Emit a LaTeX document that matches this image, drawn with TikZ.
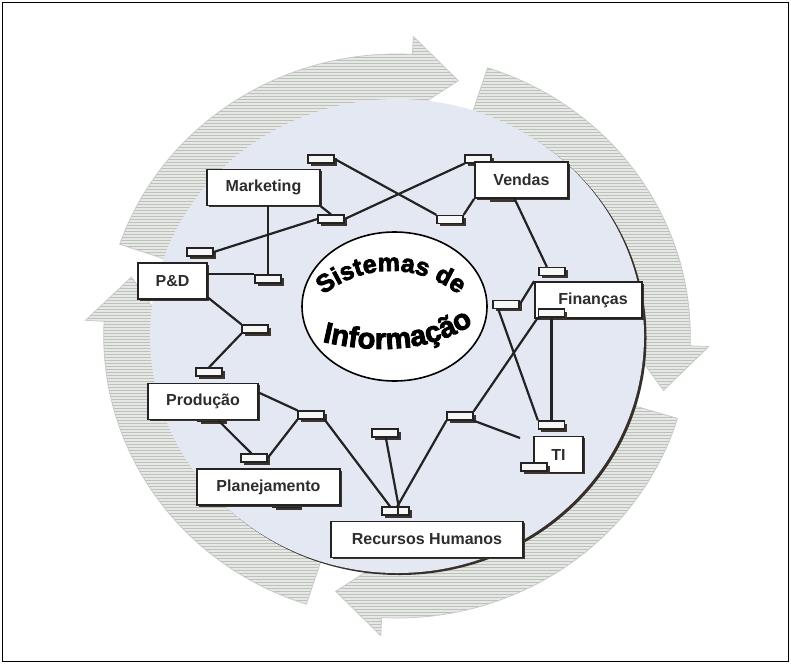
\documentclass[tikz,border=0pt]{standalone}
\usepackage{fontspec}
\setmainfont{Liberation Sans}
\newfontfamily\heavyfont{Liberation Sans}[BoldFeatures={FakeBold=3}]
\usetikzlibrary{decorations.text,patterns,shadows}

\definecolor{diskblue}{RGB}{227,232,243}
\definecolor{diskedge}{RGB}{55,48,42}
\definecolor{ringbase}{RGB}{229,232,229}
\definecolor{ringline}{RGB}{188,193,188}
\definecolor{ringedge}{RGB}{200,203,200}
\definecolor{boxline}{RGB}{35,35,35}
\definecolor{labelgray}{RGB}{45,45,45}
\definecolor{portshadow}{RGB}{60,52,45}

\newcommand\sitext{\heavyfont\bfseries\fontsize{25}{25}\selectfont}
\newcommand\ictext{\heavyfont\bfseries\fontsize{29}{29}\selectfont}
% one arrow of the ring: tail angle, back of head, tip
\newcommand\ringseg[3]{%
  \path[ringarrow] (#1:282) arc[start angle=#1, end angle=#2, radius=282]
    -- (#2:300) -- (#3:262) -- (#2:224) -- (#2:234)
    arc[start angle=#2, end angle=#1, radius=234] -- cycle;}

\tikzset{
  unit/.style={draw=boxline, line width=1.8pt, fill=white, inner sep=0pt,
    minimum height=36pt, text=labelgray, font=\fontsize{16}{19}\selectfont\bfseries,
    drop shadow={shadow xshift=1.5pt, shadow yshift=-1.5pt, fill=portshadow, opacity=1}},
  port/.style={draw=boxline, line width=1.3pt, fill=white!94!gray, inner sep=0pt,
    minimum width=26pt, minimum height=8pt,
    drop shadow={shadow xshift=2.5pt, shadow yshift=-2.5pt, fill=portshadow, opacity=1}},
  link/.style={draw=boxline, line width=2.2pt},
  ringarrow/.style={preaction={fill=ringbase}, pattern=horizontal lines,
    pattern color=ringline, draw=ringedge, line width=0.8pt}
}

\begin{document}
\begin{tikzpicture}[x=1pt,y=1pt]
\useasboundingbox (0,0) rectangle (791,-664);
\fill[white] (0,0) rectangle (791,-664);

% circular arrows
\begin{scope}[shift={(397,-336)}, xscale=1.04]
  \ringseg{161}{87}{77}
  \ringseg{72}{-2}{-12}
  \ringseg{-17}{-93}{-103}
  \ringseg{-108}{-183}{-193}
\end{scope}

% disk
\fill[diskedge] (399.5,-338) ellipse[x radius=247, y radius=237];
\fill[diskblue] (397,-336) ellipse[x radius=247, y radius=237];

% centre
\draw[line width=1.6pt, fill=white] (394.5,-306.5) ellipse[x radius=92.5, y radius=74.5];
\path[decorate, decoration={text along path, text={|\sitext|Sistemas de}, text align=center}]
  (391,-379) ++(136:108) arc[start angle=136, end angle=44, radius=108];
\path[decorate, decoration={text along path, text={|\ictext|Informação}, text align=center}]
  (312,-339) .. controls (370,-355) and (435,-354) .. (482,-318);

% ports hidden behind the boxes
\node[port] (hV) at (500,-195) {};
\node[port] (hP) at (211,-417) {};
\node[port] (hL) at (286,-503) {};
\node[port] (pR) at (478,-159) {};

% departments
\node[unit, minimum width=113pt] (MK) at (263.5,-187.5) {Marketing};
\node[unit, minimum width=93pt] (VD) at (521.5,-180) {Vendas};
\node[unit, minimum width=69pt] (PD) at (172.5,-281) {P\&D};
\node[unit, minimum width=107pt] (FN) at (588.5,-300) {\hspace{9pt}Finanças};
\node[unit, minimum width=110pt] (PR) at (203,-401.5) {Produção};
\node[unit, minimum width=143pt] (PL) at (268.5,-487) {Planejamento};
\node[unit, minimum width=192pt] (RH) at (427,-539.5) {Recursos Humanos};
\node[unit, minimum width=49pt] (TI) at (558.5,-454.5) {TI};

% ports
\node[port] (pA) at (321,-159) {};
\node[port] (pB) at (331,-219) {};
\node[port] (pC) at (200,-252) {};
\node[port] (pD) at (268,-279) {};
\node[port] (pE) at (255,-329) {};
\node[port] (pF) at (209,-372) {};
\node[port] (pG) at (311,-415) {};
\node[port] (pH) at (254,-458) {};
\node[port] (pI) at (385,-433) {};
\node[port, minimum width=16pt] (pRa) at (390,-511) {};
\node[port, minimum width=11pt] (pRb) at (403.5,-511) {};
\node[port] (pK) at (460,-416) {};
\node[port] (pL) at (551.5,-425) {};
\node[port] (pM) at (534,-467) {};
\node[port] (pN) at (506,-304.5) {};
\node[port] (pO) at (551.5,-313) {};
\node[port] (pP) at (552,-271.5) {};
\node[port] (pQ) at (450,-219.5) {};
\coordinate (tiend) at (520,-438);

% links
\path[link] (pA.east) -- (pQ.north west);
\path[link] (pB.east) -- (pR.south west);
\path[link] (MK.south east) -- (pB.north);
\path[link] (pD.north) -- (pD.north |- MK.south);
\path[link] (pC.east) -- (pB.west);
\path[link] (PD.east |- pD.north west) -- (pD.north west);
\path[link] (PD.-25) -- (pE.north west);
\path[link] (pE.south west) -- (pF.north);
\path[link] (PR.9) -- (pG.north west);
\path[link] (PR.-51) -- (pH.120);
\path[link] (pH.east) -- (pG.south west);
\path[link] (pG.south east) -- (pRa.north);
\path[link] (pI.-80) -- (pRa.north east);
\path[link] (pK.south west) -- (pRb.north west);
\path[link] (pK.south east) -- (tiend);
\path[link] (pK.north east) -- (pO.south west);
\path[link] (pO.south) -- (pL.north);
\path[link] (pN.-149) -- (pL.north west);
\path[link] (pN.east) -- (FN.north west);
\path[link] (VD.-110) -- (pP.138);
\path[link] (VD.south west) -- (pQ.north east);

% frame
\draw[line width=1.5pt] (2.5,-2.5) rectangle (788.5,-661.5);
\end{tikzpicture}
\end{document}
